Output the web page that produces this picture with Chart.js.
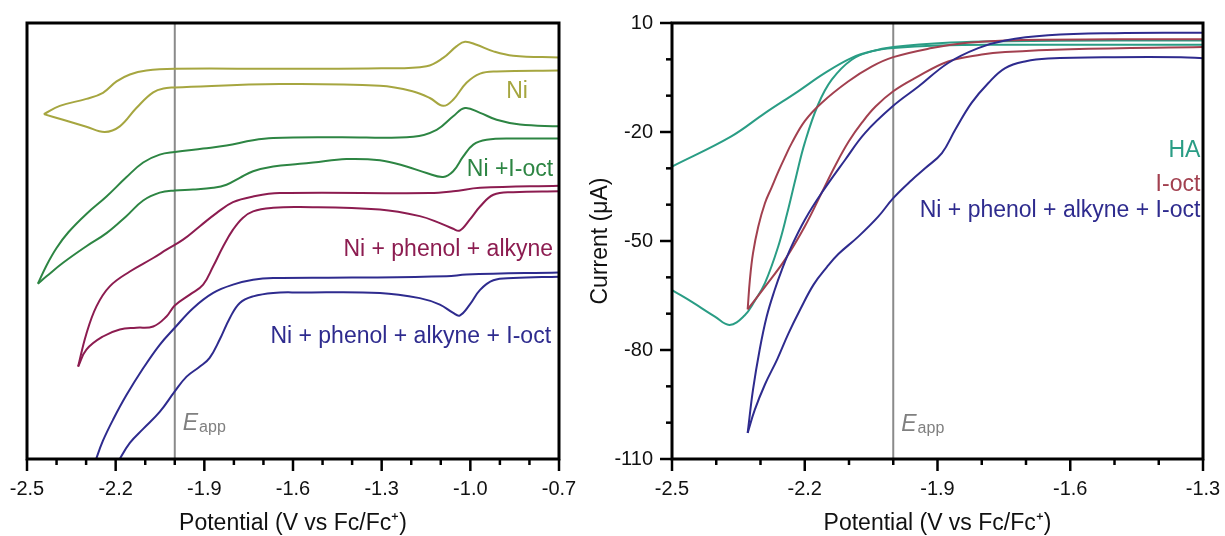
<!DOCTYPE html>
<html>
<head>
<meta charset="utf-8">
<script src="https://cdn.jsdelivr.net/npm/chart.js@4.4.1/dist/chart.umd.min.js"></script>
<style>
  html, body { margin: 0; padding: 0; background: #fff; }
  #wrap { position: relative; width: 1225px; height: 536px; }
  #cv { position: absolute; left: 0; top: 0; }
  #lsv { position: absolute; left: 580px; top: 0; }
</style>
</head>
<body>
<div id="wrap">
  <canvas id="cv" width="580" height="536"></canvas>
  <canvas id="lsv" width="645" height="536"></canvas>
</div>
<script>
var fam = '"Liberation Sans", Arial, sans-serif';

// applied potential (V vs Fc/Fc+)
var eApp = -2.0;

// left panel: CVs, stacked with offsets (arbitrary current units), [E, i]
var niUpper = [[-0.70, 92.1], [-0.855, 92.5], [-0.922, 93.5], [-0.979, 95.0], [-1.018, 95.7], [-1.046, 94.7], [-1.092, 92.0],
  [-1.148, 90.1], [-1.30, 89.6], [-1.645, 89.5], [-2.00, 89.5], [-2.096, 89.1], [-2.152, 88.2], [-2.197, 86.6],
  [-2.243, 84.0], [-2.299, 82.6], [-2.389, 81.0], [-2.443, 79.1]];
var niLower = [[-2.443, 79.1], [-2.378, 77.8], [-2.299, 76.2], [-2.237, 75.0], [-2.186, 76.3], [-2.130, 80.5], [-2.073, 84.1],
  [-2.028, 85.1], [-2.00, 85.2], [-1.645, 86.0], [-1.306, 85.6], [-1.193, 84.3], [-1.137, 82.8], [-1.092, 81.0],
  [-1.058, 82.4], [-1.013, 86.3], [-0.967, 88.4], [-0.911, 88.9], [-0.70, 89.1]];
var ioctUpper = [[-0.70, 76.3], [-0.832, 76.7], [-0.911, 77.8], [-0.967, 79.4], [-1.018, 80.5], [-1.058, 78.6], [-1.114, 75.5],
  [-1.193, 73.9], [-1.45, 73.8], [-1.667, 73.6], [-1.735, 73.1], [-1.825, 71.9], [-1.904, 71.2], [-2.00, 70.4],
  [-2.051, 69.8], [-2.107, 68.0], [-2.164, 64.6], [-2.231, 60.2], [-2.299, 56.2], [-2.36, 52.0], [-2.40, 48.4],
  [-2.434, 44.4], [-2.463, 40.2]];
var ioctLower = [[-2.463, 40.2], [-2.434, 41.9], [-2.378, 45.0], [-2.299, 48.8], [-2.231, 51.8], [-2.164, 55.7], [-2.107, 59.3],
  [-2.051, 61.1], [-2.00, 61.6], [-1.938, 61.8], [-1.870, 62.2], [-1.825, 62.9], [-1.780, 64.5], [-1.735, 66.0],
  [-1.667, 67.1], [-1.577, 67.7], [-1.532, 68.0], [-1.419, 68.8], [-1.306, 68.5], [-1.216, 67.1], [-1.148, 65.6],
  [-1.092, 64.7], [-1.058, 66.0], [-1.024, 69.4], [-0.990, 72.1], [-0.945, 73.2], [-0.855, 73.5], [-0.70, 73.5]];
var phUpper = [[-0.70, 62.7], [-0.967, 62.2], [-1.058, 61.4], [-1.137, 61.0], [-1.645, 61.0], [-1.735, 60.2], [-1.803, 58.9],
  [-1.859, 56.4], [-1.915, 53.4], [-1.972, 50.3], [-2.028, 48.0], [-2.073, 46.1], [-2.152, 43.0], [-2.220, 39.6],
  [-2.265, 35.0], [-2.300, 28.5], [-2.327, 21.2]];
var phLower = [[-2.327, 21.2], [-2.299, 25.1], [-2.243, 28.1], [-2.186, 29.7], [-2.130, 30.1], [-2.073, 30.4], [-2.028, 32.7],
  [-2.00, 35.2], [-1.949, 37.7], [-1.904, 40.0], [-1.870, 44.2], [-1.836, 48.8], [-1.803, 52.6], [-1.770, 55.3],
  [-1.735, 56.8], [-1.667, 57.6], [-1.577, 57.8], [-1.306, 57.2], [-1.171, 55.7], [-1.103, 54.1], [-1.058, 52.8],
  [-1.036, 52.4], [-1.002, 54.9], [-0.967, 57.9], [-0.922, 60.6], [-0.855, 61.2], [-0.70, 61.4]];
var allUpper = [[-0.70, 42.8], [-1.013, 42.3], [-1.080, 41.9], [-1.40, 41.6], [-1.667, 41.5], [-1.735, 41.1], [-1.803, 40.0],
  [-1.870, 38.1], [-1.938, 34.6], [-2.00, 30.1], [-2.051, 26.2], [-2.107, 20.8], [-2.164, 14.6], [-2.209, 9.0],
  [-2.243, 4.2], [-2.266, 0.0], [-2.30, -7], [-2.33, -14]];
var allLower = [[-2.33, -14], [-2.24, -7], [-2.186, 0.0], [-2.152, 3.7], [-2.107, 6.9], [-2.051, 10.8], [-2.00, 15.5],
  [-1.960, 18.9], [-1.915, 21.2], [-1.882, 23.2], [-1.848, 27.4], [-1.814, 32.3], [-1.780, 35.8], [-1.735, 37.3],
  [-1.667, 38.1], [-1.577, 38.2], [-1.306, 38.1], [-1.171, 36.9], [-1.103, 35.4], [-1.058, 33.5], [-1.036, 32.9],
  [-1.002, 35.4], [-0.967, 38.8], [-0.922, 41.0], [-0.855, 41.5], [-0.70, 41.8]];

// right panel: current (uA) vs E, forward and return branches
var haFwd = [[-1.30, 5.2], [-1.50, 5.2], [-1.75, 5.0], [-1.87, 4.6], [-2.00, 3.4], [-2.049, 2.2], [-2.094, -0.1],
  [-2.139, -5.6], [-2.170, -12.5], [-2.200, -23.0], [-2.220, -32.5], [-2.240, -42.5], [-2.260, -51.5], [-2.290, -61.6],
  [-2.313, -66.5], [-2.336, -70.5], [-2.370, -73.1], [-2.403, -70.8], [-2.456, -66.7], [-2.50, -63.5], [-2.54, -60.5]];
var haRev = [[-2.54, -32.0], [-2.50, -29.5], [-2.366, -21.2], [-2.290, -14.8], [-2.215, -8.8], [-2.155, -3.8],
  [-2.094, 0.4], [-2.049, 2.2], [-2.00, 3.1], [-1.90, 3.8], [-1.75, 4.0], [-1.30, 4.0]];
var octFwd = [[-1.30, 5.5], [-1.50, 5.5], [-1.747, 5.2], [-1.838, 4.5], [-1.913, 3.1], [-2.00, 0.6], [-2.049, -2.0],
  [-2.102, -6.1], [-2.162, -12.0], [-2.200, -17.0], [-2.230, -23.2], [-2.245, -27.0], [-2.260, -31.0], [-2.275, -35.3],
  [-2.290, -39.6], [-2.305, -46.0], [-2.317, -53.4], [-2.324, -60.7], [-2.329, -68.8]];
var octRev = [[-2.329, -68.8], [-2.290, -62.6], [-2.245, -55.2], [-2.200, -46.0], [-2.162, -36.8], [-2.130, -29.0],
  [-2.100, -22.5], [-2.070, -17.3], [-2.040, -13.0], [-2.00, -8.8], [-1.951, -5.2], [-1.876, -0.6], [-1.800, 1.3],
  [-1.747, 2.0], [-1.60, 2.8], [-1.30, 3.4]];
var mixFwd = [[-1.30, 7.3], [-1.50, 7.2], [-1.65, 6.6], [-1.747, 5.2], [-1.808, 3.1], [-1.876, -1.0], [-1.943, -7.5],
  [-2.00, -12.8], [-2.064, -20.3], [-2.109, -27.7], [-2.162, -36.8], [-2.200, -44.2], [-2.230, -51.5], [-2.252, -58.0],
  [-2.268, -63.5], [-2.286, -70.8], [-2.302, -80.0], [-2.317, -91.0], [-2.329, -102.8]];
var mixRev = [[-2.329, -102.8], [-2.313, -96.5], [-2.290, -89.5], [-2.262, -82.5], [-2.237, -75.5], [-2.210, -68.8],
  [-2.180, -62.0], [-2.150, -57.2], [-2.124, -53.6], [-2.079, -48.8], [-2.034, -43.3], [-2.00, -38.2], [-1.958, -33.2],
  [-1.928, -30.0], [-1.890, -25.8], [-1.860, -19.4], [-1.823, -12.0], [-1.785, -6.5], [-1.747, -2.4], [-1.70, -0.5],
  [-1.65, 0.2], [-1.50, 0.6], [-1.35, 0.6], [-1.30, 0.3]];

var cvNames = ['Ni', 'Ni +I-oct', 'Ni + phenol + alkyne', 'Ni + phenol + alkyne + I-oct'];
var cvColors = ['#a6a640', '#2d8543', '#8c1c50', '#2e2b8e'];
var lsvNames = ['HA', 'I-oct', 'Ni + phenol + alkyne + I-oct'];
var lsvColors = ['#2a9d85', '#a2404f', '#2e2b8e'];

function pts(arr) {
  return arr.map(function (p) { return { x: p[0], y: p[1] }; });
}

function curve(arr, color) {
  return { data: pts(arr), showLine: true, borderColor: color, borderWidth: 2, pointRadius: 0, tension: 0.4, fill: false };
}

function eappLine(lo, hi) {
  return { data: [{ x: eApp, y: lo }, { x: eApp, y: hi }], showLine: true, borderColor: '#8a8a8a', borderWidth: 2, pointRadius: 0 };
}

var panelDecor = {
  id: 'panelDecor',
  afterDatasetsDraw: function (chart, args, opts) {
    var ctx = chart.ctx, a = chart.chartArea;
    var sx = chart.scales.x, sy = chart.scales.y;
    ctx.save();
    ctx.strokeStyle = '#000';
    ctx.lineWidth = 3;
    ctx.strokeRect(a.left, a.top, a.right - a.left, a.bottom - a.top);
    ctx.lineWidth = 2.5;
    opts.tickScales.forEach(function (id) {
      var s = chart.scales[id];
      s.ticks.forEach(function (t) {
        var len = t.label === '' ? 6 : 12;
        var p = s.getPixelForValue(t.value);
        ctx.beginPath();
        if (s.isHorizontal()) { ctx.moveTo(p, a.bottom); ctx.lineTo(p, a.bottom + len); }
        else { ctx.moveTo(a.left, p); ctx.lineTo(a.left - len, p); }
        ctx.stroke();
      });
    });

    // E_app tag next to the line
    var x = sx.getPixelForValue(eApp) + 8;
    var y = a.bottom - opts.eappLift;
    ctx.fillStyle = '#808080';
    ctx.textAlign = 'left';
    ctx.textBaseline = 'alphabetic';
    ctx.font = 'italic 23px ' + fam;
    ctx.fillText('E', x, y);
    var w = ctx.measureText('E').width;
    ctx.font = '16px ' + fam;
    ctx.fillText('app', x + w + 1, y + 2);

    // series names
    ctx.font = '23px ' + fam;
    ctx.textAlign = 'right';
    opts.labels.forEach(function (l) {
      ctx.fillStyle = l.color;
      ctx.fillText(l.text, sx.getPixelForValue(l.e), sy.getPixelForValue(l.i));
    });
    ctx.restore();
  }
};

function xAxis(min, max) {
  return {
    type: 'linear', min: min, max: max,
    afterFit: function (s) { s.height = 77; },
    grid: { display: false, drawTicks: true, tickLength: 18 },
    border: { display: false },
    ticks: {
      stepSize: 0.1, maxTicksLimit: 100, autoSkip: false, maxRotation: 0, padding: 0,
      color: '#111', font: { size: 20, family: fam },
      callback: function (v) {
        return Math.round((v - min) / 0.1) % 3 === 0 ? v.toFixed(1) : '';
      }
    },
    title: {
      display: true, text: 'Potential (V vs Fc/Fc\u207A)', color: '#111',
      font: { size: 23, family: fam, lineHeight: 1 }, padding: { top: 0, bottom: 1 }
    }
  };
}

new Chart(document.getElementById('cv'), {
  type: 'scatter',
  data: {
    datasets: [
      curve(niUpper, cvColors[0]), curve(niLower, cvColors[0]),
      curve(ioctUpper, cvColors[1]), curve(ioctLower, cvColors[1]),
      curve(phUpper, cvColors[2]), curve(phLower, cvColors[2]),
      curve(allUpper, cvColors[3]), curve(allLower, cvColors[3]),
      eappLine(0, 100)
    ]
  },
  options: {
    responsive: false,
    animation: false,
    layout: { padding: { left: 27, top: 23, right: 21, bottom: 0 } },
    plugins: {
      legend: { display: false },
      tooltip: { enabled: false },
      panelDecor: {
        tickScales: ['x'],
        eappLift: 29,
        labels: [
          { text: cvNames[0], color: cvColors[0], e: -0.805, i: 82.9 },
          { text: cvNames[1], color: cvColors[1], e: -0.72, i: 64.8 },
          { text: cvNames[2], color: cvColors[2], e: -0.72, i: 46.6 },
          { text: cvNames[3], color: cvColors[3], e: -0.727, i: 26.7 }
        ]
      }
    },
    scales: {
      x: xAxis(-2.5, -0.7),
      y: { type: 'linear', display: false, min: 0, max: 100 }
    }
  },
  plugins: [panelDecor]
});

new Chart(document.getElementById('lsv'), {
  type: 'scatter',
  data: {
    datasets: [
      curve(mixFwd, lsvColors[2]), curve(mixRev, lsvColors[2]),
      curve(octFwd, lsvColors[1]), curve(octRev, lsvColors[1]),
      curve(haFwd, lsvColors[0]), curve(haRev, lsvColors[0]),
      eappLine(-110, 10)
    ]
  },
  options: {
    responsive: false,
    animation: false,
    layout: { padding: { left: 0, top: 23, right: 22, bottom: 0 } },
    plugins: {
      legend: { display: false },
      tooltip: { enabled: false },
      panelDecor: {
        tickScales: ['x', 'y'],
        eappLift: 28,
        labels: [
          { text: lsvNames[0], color: lsvColors[0], e: -1.306, i: -26.8 },
          { text: lsvNames[1], color: lsvColors[1], e: -1.306, i: -36.2 },
          { text: lsvNames[2], color: lsvColors[2], e: -1.306, i: -43.4 }
        ]
      }
    },
    scales: {
      x: xAxis(-2.5, -1.3),
      y: {
        type: 'linear', min: -110, max: 10,
        afterFit: function (s) { s.width = 92; },
        grid: { display: false, drawTicks: true, tickLength: 19 },
        border: { display: false },
        ticks: {
          stepSize: 10, autoSkip: false, padding: 0, color: '#111', font: { size: 20, family: fam },
          callback: function (v) { return Math.round((v + 110) / 10) % 3 === 0 ? String(v) : ''; }
        },
        title: {
          display: true, text: 'Current (\u03BCA)', color: '#111',
          font: { size: 23, family: fam, lineHeight: 1 }, padding: { top: 9, bottom: 0 }
        }
      }
    }
  },
  plugins: [panelDecor]
});
</script>
</body>
</html>
